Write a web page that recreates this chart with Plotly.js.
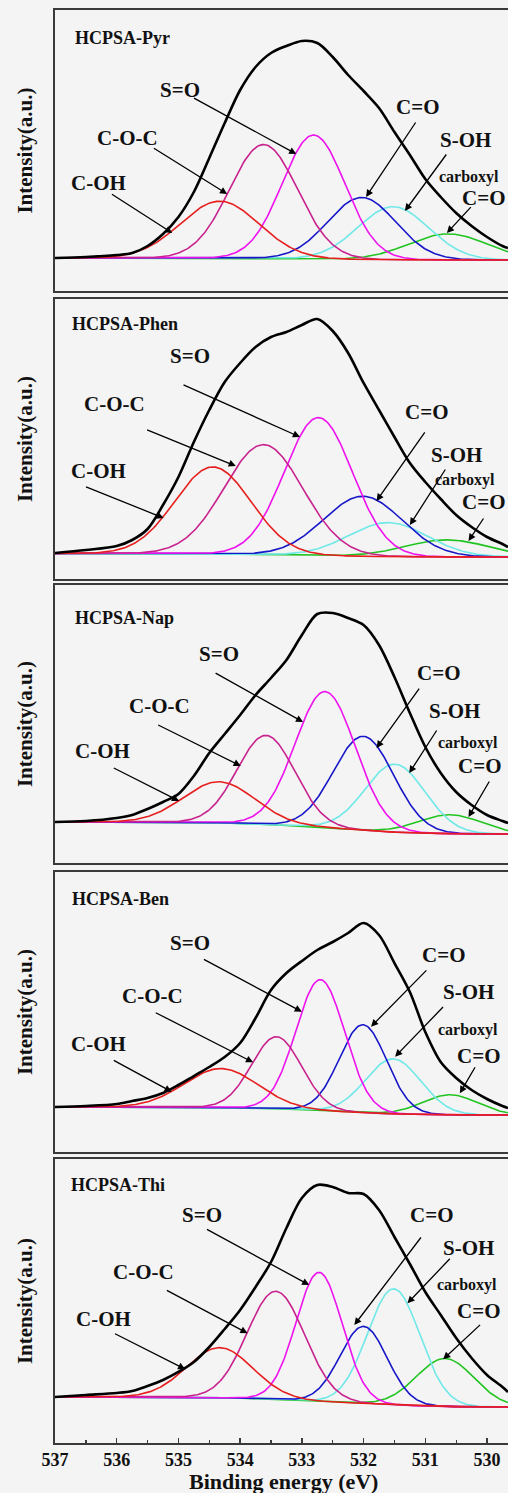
<!DOCTYPE html>
<html>
<head>
<meta charset="utf-8">
<script src="https://cdn.plot.ly/plotly-3.0.1.min.js"></script>
<style>
html,body{margin:0;padding:0;background:#f4f4f4;}
#chart{width:508px;height:1493px;}
</style>
</head>
<body>
<div id="chart"></div>
<script>
// ---------------- DATA ----------------
const samples = ['HCPSA-Pyr', 'HCPSA-Phen', 'HCPSA-Nap', 'HCPSA-Ben', 'HCPSA-Thi'];
const peakNames = ['C-OH', 'C-O-C', 'S=O', 'C=O', 'S-OH', 'carboxyl C=O'];
const tickVals = [537, 536, 535, 534, 533, 532, 531, 530];

// envelope (black) sampled at these binding energies (eV)
const energy = [537, 536.5, 536, 535.75, 535.5, 535.25, 535, 534.75, 534.5, 534.25, 534,
  533.75, 533.5, 533.25, 533, 532.75, 532.5, 532.25, 532, 531.75, 531.5, 531.25, 531,
  530.75, 530.5, 530.25, 530, 529.75, 529.66];
const envPyr  = [2, 3, 5, 7, 14, 26, 43, 68, 102, 137, 170, 193, 207, 214, 219, 217, 203, 185, 169, 152, 128, 105, 81, 63, 47, 34, 23, 14, 12];
const envPhen = [4, 7, 11, 17, 28, 52, 80, 115, 147, 175, 194, 210, 220, 225, 232, 238, 226, 204, 174, 147, 120, 94, 75, 58, 42, 30, 20, 13, 10];
const envNap  = [12, 13, 16, 19, 25, 32, 40, 58, 81, 100, 119, 139, 156, 174, 199, 220, 221, 216, 209, 189, 157, 121, 87, 61, 42, 29, 19, 13, 11];
const envBen  = [8, 9, 11, 14, 17, 22, 30, 39, 48, 58, 72, 97, 125, 142, 154, 165, 173, 182, 192, 180, 152, 123, 83, 53, 37, 25, 16, 9, 7];
const envThi  = [10, 12, 14, 16, 21, 27, 35, 45, 60, 78, 97, 120, 145, 179, 209, 222, 220, 214, 213, 197, 170, 143, 115, 92, 69, 49, 32, 20, 15];

// fitted components: centre (eV), height (a.u.), FWHM (eV), order = peakNames
const centersPyr  = [534.33, 533.62, 532.81, 532.03, 531.52, 530.63];
const heightsPyr  = [57, 114, 124, 62, 53, 26];
const fwhmPyr     = [1.5, 1.3, 1.2, 1.3, 1.35, 1.5];
const centersPhen = [534.44, 533.62, 532.73, 532.01, 531.60, 530.65];
const heightsPhen = [87, 110, 138, 60, 34, 17];
const fwhmPhen    = [1.45, 1.5, 1.3, 1.5, 1.5, 1.6];
const centersNap  = [534.34, 533.58, 532.62, 532.00, 531.49, 530.60];
const heightsNap  = [41, 89, 136, 94, 68, 19];
const fwhmNap     = [1.36, 1.1, 1.15, 1.15, 1.15, 1.2];
const centersBen  = [534.31, 533.41, 532.70, 532.01, 531.52, 530.60];
const heightsBen  = [39, 72, 131, 88, 55, 20];
const fwhmBen     = [1.4, 0.95, 0.93, 0.9, 1.05, 1.05];
const centersThi  = [534.33, 533.42, 532.72, 532.00, 531.51, 530.68];
const heightsThi  = [50, 108, 129, 77, 116, 48];
const fwhmThi     = [1.26, 1.1, 0.88, 0.9, 1.0, 1.1];
// background step (high-BE side above low-BE side)
const bgStep = [2, 3.5, 12, 8, 10];

// ---------------- STYLE / LAYOUT ----------------
const X0 = 537, X1 = 529.66;
const compColors = ['#e61e1e', '#c8228e', '#ee12ee', '#1717c8', '#70e8e8', '#22c422'];
const FONT = 'Liberation Serif, Times New Roman, serif';
const frame = '#3a3a3a';

const panels = [
  {env: envPyr,  c: centersPyr,  h: heightsPyr,  w: fwhmPyr},
  {env: envPhen, c: centersPhen, h: heightsPhen, w: fwhmPhen},
  {env: envNap,  c: centersNap,  h: heightsNap,  w: fwhmNap},
  {env: envBen,  c: centersBen,  h: heightsBen,  w: fwhmBen},
  {env: envThi,  c: centersThi,  h: heightsThi,  w: fwhmThi}
];
const domains = [[0.80391, 1], [0.60293, 0.79833], [0.40475, 0.59874], [0.20307, 0.39846], [0, 0.19819]];
const yRanges = [[-31, 250], [-22, 258], [-29, 249], [-37, 243], [-36, 248]];

// label positions [text, x(eV), y, kind]
const labelPos = [
  [['S=O',534.97,170],['C-O-C',535.83,122],['C-OH',536.29,77],['C=O',531.13,153],['S-OH',530.35,120],['carboxyl',530.81,83,'s'],['C=O',530.06,62]],
  [['S=O',534.81,201],['C-O-C',536.03,153],['C-OH',536.30,86],['C=O',530.98,145],['S-OH',530.49,102],['carboxyl',530.87,77,'s'],['C=O',530.06,55]],
  [['S=O',534.35,180],['C-O-C',535.30,128],['C-OH',536.23,83],['C=O',530.79,161],['S-OH',530.52,123],['carboxyl',530.83,91,'s'],['C=O',530.12,68]],
  [['S=O',534.81,171.7],['C-O-C',535.42,119],['C-OH',536.30,71],['C=O',530.71,160],['S-OH',530.30,123.3],['carboxyl',530.83,84.7,'s'],['C=O',530.14,59.3]],
  [['S=O',534.62,192],['C-O-C',535.57,135.3],['C-OH',536.21,88],['C=O',530.90,192],['S-OH',530.30,158.7],['carboxyl',530.84,121.7,'s'],['C=O',530.14,95.7]]
];
const namePos = [[536.71,222],[536.75,232.7],[536.71,216],[536.75,215.7],[536.78,222]];
// arrows [headX, headY, tailX, tailY]
const arrowPos = [
  [[533.09,106,534.78,163],[534.21,66,535.43,113],[535.10,27,536.11,67],[531.96,63,531.13,140],[531.33,49,530.63,108],[530.65,27,530.23,55]],
  [[533.03,120,534.95,173],[534.07,91,535.54,128],[535.24,39,536.53,71],[531.79,56,530.98,127],[531.25,32,530.65,90],[530.30,16,530.03,41]],
  [[532.98,112,534.43,162],[533.99,68,535.36,110],[534.99,33,536.08,67],[531.79,86,531.07,148],[531.26,61,530.79,106],[530.30,17,529.94,55]],
  [[533.00,103.3,534.62,156.7],[533.79,52.7,535.40,103.3],[535.11,23.3,536.08,55.7],[531.88,88.3,530.95,146.7],[531.49,58.3,530.68,110],[530.44,21.7,530.17,50.3]],
  [[532.88,122,534.57,178.7],[533.88,73.7,535.22,117.7],[534.89,37.7,536.06,74.3],[532.15,82,531.04,172],[531.29,103.7,530.57,150.3],[530.71,47.7,530.08,84]]
];

function gauss(E, c, h, w) { return h * Math.exp(-4 * Math.LN2 * Math.pow((E - c) / w, 2)); }

const fine = [];
for (let k = 0; ; k++) { const e = +(X0 - 0.02 * k).toFixed(3); if (e < X1) break; fine.push(e); }

const traces = [];
const annotations = [];
const layout = {
  width: 508, height: 1493,
  margin: {l: 55, r: 0, t: 10, b: 50, pad: 0},
  paper_bgcolor: '#f4f4f4', plot_bgcolor: '#f4f4f4',
  showlegend: false,
  font: {family: FONT, color: '#000'}
};

panels.forEach((p, pi) => {
  const n = pi + 1;
  const xa = n === 1 ? 'x' : 'x' + n, ya = n === 1 ? 'y' : 'y' + n;
  // Shirley-type background from component area
  const sum = fine.map(E => p.c.reduce((s, c, i) => s + gauss(E, c, p.h[i], p.w[i]), 0));
  const cum = new Array(fine.length).fill(0);
  for (let k = fine.length - 2; k >= 0; k--) cum[k] = cum[k + 1] + (sum[k] + sum[k + 1]) / 2 * 0.02;
  const bg = cum.map(a => bgStep[pi] * a / cum[0]);
  const order = [5, 4, 3, 2, 1, 0];
  order.forEach(i => {
    traces.push({
      type: 'scatter', mode: 'lines', name: peakNames[i], xaxis: xa, yaxis: ya,
      x: fine, y: fine.map((E, k) => bg[k] + gauss(E, p.c[i], p.h[i], p.w[i])),
      line: {color: compColors[i], width: 1.6}, hoverinfo: 'skip'
    });
  });
  traces.push({
    type: 'scatter', mode: 'lines', name: 'envelope', xaxis: xa, yaxis: ya,
    x: energy, y: p.env, line: {color: '#000', width: 2.6, shape: 'spline', smoothing: 0.9}, hoverinfo: 'skip'
  });

  const last = n === 5;
  layout['xaxis' + (n === 1 ? '' : n)] = {
    domain: [0, 1], range: [X0, X1], anchor: ya,
    showline: true, mirror: true, linecolor: frame, linewidth: 2,
    showgrid: false, zeroline: false,
    ticks: last ? 'inside' : '', showticklabels: last,
    tickmode: 'array', tickvals: tickVals, ticklen: 5, tickwidth: 1.5, tickcolor: frame,
    minor: last ? {ticks: 'inside', ticklen: 3, tickwidth: 1.3, tickcolor: frame, dtick: 0.5, tick0: 530} : {ticks: ''},
    tickfont: {family: FONT, size: 18, weight: 700, color: '#111'},
    ticklabelstandoff: -1
  };
  layout['yaxis' + (n === 1 ? '' : n)] = {
    domain: domains[pi], range: yRanges[pi], anchor: xa,
    showline: true, mirror: false, linecolor: frame, linewidth: 2,
    showgrid: false, zeroline: false, ticks: '', showticklabels: false
  };

  // y title
  annotations.push({
    xref: 'paper', yref: ya + ' domain', x: -0.066, y: 0.5, xanchor: 'center', yanchor: 'middle',
    text: 'Intensity(a.u.)', textangle: -90, showarrow: false,
    font: {family: FONT, size: 21, weight: 700, color: '#111'}
  });
  // sample name
  annotations.push({
    xref: xa, yref: ya, x: namePos[pi][0], y: namePos[pi][1], xanchor: 'left', yanchor: 'middle',
    text: samples[pi], showarrow: false, font: {family: FONT, size: 18, weight: 700, color: '#111'}
  });
  labelPos[pi].forEach(l => {
    const small = l[3] === 's';
    annotations.push({
      xref: xa, yref: ya, x: l[1], y: l[2], xanchor: small ? 'left' : 'center', yanchor: 'middle',
      text: l[0], showarrow: false,
      font: {family: FONT, size: small ? 16 : 21, weight: 700, color: '#111'}
    });
  });
  arrowPos[pi].forEach(a => {
    annotations.push({
      xref: xa, yref: ya, axref: xa, ayref: ya, x: a[0], y: a[1], ax: a[2], ay: a[3],
      text: ' ', font: {size: 2}, showarrow: true, arrowhead: 2, arrowsize: 1.1, arrowwidth: 1.3,
      arrowcolor: '#000', standoff: 0, startstandoff: 0
    });
  });
});
// x-axis title
annotations.push({
  xref: 'paper', yref: 'paper', x: 0.505, y: -0.0272, xanchor: 'center', yanchor: 'middle',
  text: 'Binding energy (eV)', showarrow: false,
  font: {family: FONT, size: 22, weight: 700, color: '#111'}
});
layout.annotations = annotations;

Plotly.newPlot('chart', traces, layout, {staticPlot: true, displayModeBar: false});
</script>
</body>
</html>
